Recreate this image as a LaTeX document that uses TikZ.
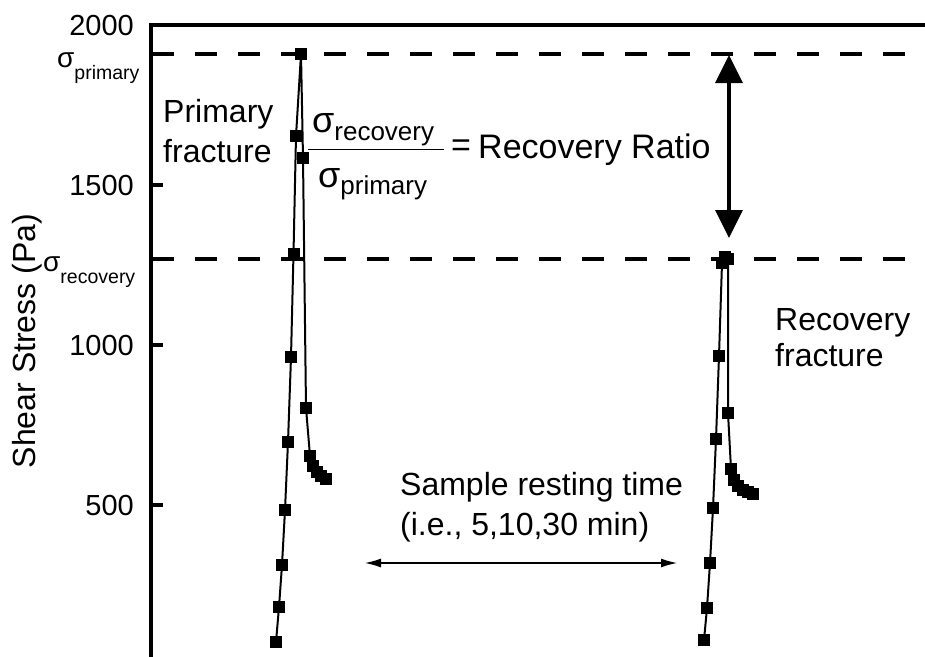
\documentclass[tikz,border=0pt]{standalone}
\usepackage{fontspec}
\setmainfont{Liberation Sans}
\usetikzlibrary{arrows.meta}
\begin{document}
\begin{tikzpicture}[x=1pt,y=-1pt,
  axisline/.style={line width=4pt},
  dashline/.style={line width=4pt, dash pattern=on 22pt off 21pt},
  ticklab/.style={anchor=east, inner sep=0pt, font=\fontsize{29}{29}\selectfont},
  lbl/.style={anchor=base west, inner sep=0pt, font=\fontsize{32}{32}\selectfont},
  dataline/.style={line width=2pt},
  sqmark/.style={fill=black},
  bigdouble/.style={line width=3.5pt, {Triangle[width=27pt,length=28pt]}-{Triangle[width=27pt,length=28pt]}},
  thindouble/.style={line width=1.3pt, {Latex[width=9pt,length=16pt]}-{Latex[width=9pt,length=16pt]}},
]
\useasboundingbox (0,0) rectangle (925,656);
\fill[white] (0,0) rectangle (925,656);

% axes
\coordinate (ax0) at (151,25);
\coordinate (axb) at (151,660);
\coordinate (axr) at (930,25);
\draw[axisline] (axb) -- (ax0) -- (axr);
\foreach \yy in {25,185,345,505} {\draw[axisline] (151,\yy) -- (163,\yy);}

\node[ticklab] (t2000) at (134,26) {2000};
\node[ticklab] (t1500) at (134,186) {1500};
\node[ticklab] (t1000) at (134,346) {1000};
\node[ticklab] (t500) at (134,506) {500};

\node[rotate=90, inner sep=0pt, font=\fontsize{32}{32}\selectfont] (ylab) at (27,341) {Shear Stress (Pa)};

% dashed reference lines
\coordinate (dp0) at (152,54);
\coordinate (dp1) at (930,54);
\coordinate (dr0) at (152,259);
\coordinate (dr1) at (930,259);
\draw[dashline] (dp0) -- (dp1);
\draw[dashline] (dr0) -- (dr1);

\node[anchor=base west, inner sep=0pt] (sp) at (57,67) {{\fontsize{28}{28}\selectfont σ}\raisebox{-12pt}{\fontsize{19.5}{20}\selectfont primary}};
\node[anchor=base west, inner sep=0pt] (sr) at (43,271) {{\fontsize{28}{28}\selectfont σ}\raisebox{-12pt}{\fontsize{19.5}{20}\selectfont recovery}};

% data
\draw[dataline] plot coordinates {(276,642) (279,607) (282,565) (285,510) (288,442) (291,357) (293.5,253.5) (296,136) (301,54) (303,158) (306,408) (310,456) (313,466) (317,472) (321,476) (326,479)};
\draw[dataline] plot coordinates {(704,640) (707,608) (710,563) (713,508) (716,439) (719,356) (722,263) (725,257) (728,259) (728,413) (731,469) (734,480) (738,486) (743,490) (748,492) (753,494)};
\foreach \px/\py in {276/642,279/607,282/565,285/510,288/442,291/357,293.5/253.5,296/136,301/54,303/158,306/408,310/456,313/466,317/472,321/476,326/479,
  704/640,707/608,710/563,713/508,716/439,719/356,722/263,725/257,728/259,728/413,731/469,734/480,738/486,743/490,748/492,753/494}
  {\fill[sqmark] (\px-6,\py-6) rectangle (\px+6,\py+6);}

% labels
\node[lbl] (pf1) at (163,122) {Primary};
\node[lbl] (pf2) at (163,162) {fracture};
\node[lbl] (rf1) at (775,330) {Recovery};
\node[lbl] (rf2) at (775,366) {fracture};

% fraction
\node[anchor=base west, inner sep=0pt] (num) at (312,132) {{\fontsize{36}{36}\selectfont σ}\raisebox{-8pt}{\fontsize{26}{26}\selectfont recovery}};
\node[anchor=base west, inner sep=0pt] (den) at (318,187) {{\fontsize{36}{36}\selectfont σ}\raisebox{-7pt}{\fontsize{26}{26}\selectfont primary}};
\coordinate (fl0) at (308,149);
\coordinate (fl1) at (444,149);
\draw[line width=1pt] (fl0) -- (fl1);
\node[inner sep=0pt, font=\fontsize{34}{34}\selectfont] (eq) at (461,148) {=};
\node[anchor=base west, inner sep=0pt, font=\fontsize{34}{34}\selectfont] (rr) at (478,158) {Recovery Ratio};

% double arrow
\coordinate (at) at (729,55);
\coordinate (ab) at (729,238);
\draw[bigdouble] (at) -- (ab);

% resting time
\node[lbl] (st1) at (400,495) {Sample resting time};
\node[lbl] (st2) at (400,535) {(i.e., 5,10,30 min)};
\coordinate (bl) at (365,563);
\coordinate (br) at (677,563);
\draw[thindouble] (bl) -- (br);
\end{tikzpicture}
\end{document}
